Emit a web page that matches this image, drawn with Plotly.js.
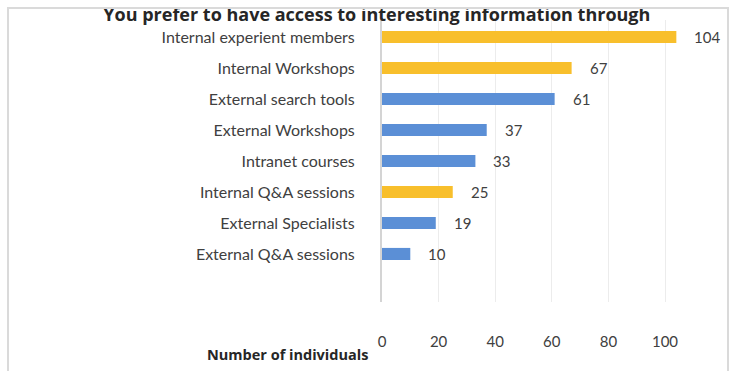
<!DOCTYPE html>
<html>
<head>
<meta charset="utf-8">
<script src="https://cdn.plot.ly/plotly-3.0.1.min.js"></script>
<style>
  html, body { margin: 0; padding: 0; background: #ffffff; }
  #wrap { position: relative; width: 736px; height: 371px; }
  #chart { position: absolute; left: 0; top: 0; width: 736px; height: 371px; }
  #frame { position: absolute; left: 7px; top: 7px; width: 722px; height: 370px; border: 2px solid #dadada; box-sizing: border-box; pointer-events: none; }
</style>
</head>
<body>
<div id="wrap">
  <div id="chart"></div>
  <div id="frame"></div>
</div>
<script>
const categories = [
  "Internal experient members",
  "Internal Workshops",
  "External search tools",
  "External Workshops",
  "Intranet courses",
  "Internal Q&A sessions",
  "External Specialists",
  "External Q&A sessions"
];
const values = [104, 67, 61, 37, 33, 25, 19, 10];
const groups = ["Internal", "Internal", "External", "External", "External", "Internal", "External", "External"];
const xTicks = [0, 20, 40, 60, 80, 100];

const groupColors = { Internal: "#F8BF2C", External: "#5B8FD6" };
const barColors = groups.map(g => groupColors[g]);

const trace = {
  type: "bar",
  orientation: "h",
  y: categories,
  x: values,
  marker: { color: barColors },
  width: 0.39,
  hoverinfo: "none",
  showlegend: false
};

const valueLabels = categories.map((c, i) => ({
  x: values[i],
  y: c,
  xref: "x",
  yref: "y",
  text: String(values[i]),
  showarrow: false,
  xanchor: "left",
  xshift: 16,
  font: { family: "Lato, 'Open Sans', sans-serif", size: 15, color: "#404040" }
}));

const layout = {
  width: 736,
  height: 371,
  margin: { l: 382, r: 54, t: 20, b: 69 },
  paper_bgcolor: "#ffffff",
  plot_bgcolor: "#ffffff",
  font: { family: "Lato, 'Open Sans', sans-serif", size: 15, color: "#404040" },
  title: {
    text: "<b>You prefer to have access to interesting information through</b>",
    font: { family: "'Open Sans', sans-serif", size: 18, color: "#262626" },
    x: 0.512,
    xanchor: "center",
    y: 0.96,
    yanchor: "middle",
    yref: "container"
  },
  xaxis: {
    range: [0, 106],
    tickvals: xTicks,
    ticktext: xTicks.map(String),
    showgrid: true,
    gridcolor: "#ececec",
    gridwidth: 1,
    zeroline: false,
    showline: false,
    ticks: "",
    ticklabelstandoff: 29,
    tickfont: { size: 15, color: "#404040" },
    fixedrange: true
  },
  yaxis: {
    type: "category",
    categoryorder: "array",
    categoryarray: categories,
    range: [8.55, -0.55],
    showgrid: false,
    zeroline: false,
    showline: true,
    linecolor: "#d4d4d4",
    linewidth: 2,
    ticks: "",
    ticklabelstandoff: 22,
    tickfont: { size: 16, color: "#404040" },
    fixedrange: true
  },
  annotations: valueLabels.concat([{
    xref: "paper",
    yref: "paper",
    x: -0.04,
    y: -0.185,
    xanchor: "right",
    yanchor: "middle",
    text: "<b>Number of individuals</b>",
    showarrow: false,
    font: { family: "'Open Sans', sans-serif", size: 14.5, color: "#262626" }
  }])
};

Plotly.newPlot("chart", [trace], layout, { displayModeBar: false, staticPlot: true });
</script>
</body>
</html>
